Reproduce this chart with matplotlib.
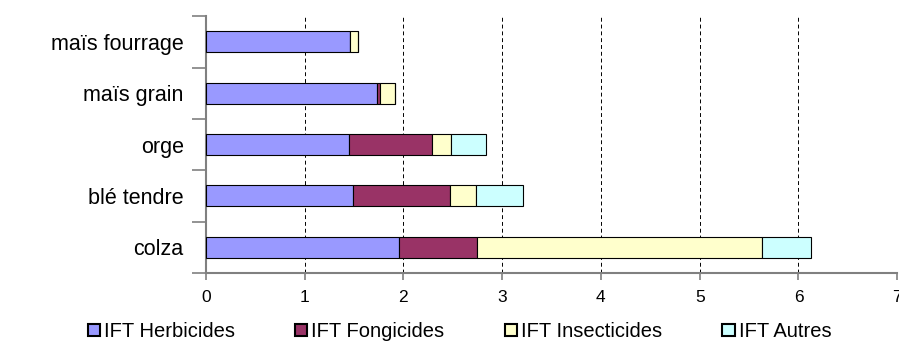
import numpy as np
import matplotlib
matplotlib.use('Agg')
import matplotlib.pyplot as plt

plt.rcParams['font.family'] = ['Liberation Sans', 'DejaVu Sans']

# donnees
cultures = ['colza', 'blé tendre', 'orge', 'maïs grain', 'maïs fourrage']
herbicides = [1.96, 1.49, 1.45, 1.73, 1.46]
fongicides = [0.79, 0.98, 0.84, 0.03, 0.0]
insecticides = [2.88, 0.27, 0.19, 0.15, 0.08]
autres = [0.50, 0.47, 0.36, 0.0, 0.0]

series = [('IFT Herbicides', herbicides, '#9999FF'),
          ('IFT Fongicides', fongicides, '#993366'),
          ('IFT Insecticides', insecticides, '#FFFFCC'),
          ('IFT Autres', autres, '#CCFFFF')]

fig = plt.figure(figsize=(8.99, 3.43), dpi=100)
ax = fig.add_axes([0.229, 0.204, 0.769, 0.749])

y = np.arange(len(cultures))
gauche = np.zeros(len(cultures))
for nom, vals, couleur in series:
    vals = np.array(vals)
    ax.barh(y, vals, left=gauche, height=0.41, color=couleur,
            edgecolor='black', linewidth=0.8, label=nom, zorder=3)
    gauche += vals

ax.set_xlim(0, 7)
ax.set_ylim(-0.5, len(cultures) - 0.5)
ax.set_xticks(np.arange(0, 8, 1))
ax.set_xticklabels([str(i) for i in range(8)], fontsize=12.5)
ax.set_yticks(np.arange(-0.5, len(cultures), 1))
ax.set_yticklabels([])
ax.set_yticks(y, minor=True)
ax.set_yticklabels(cultures, minor=True, fontsize=15.5)
ax.tick_params(axis='y', which='minor', length=0, pad=16)
ax.tick_params(axis='y', which='major', length=10, color='#808080', width=1.2)
ax.tick_params(axis='x', length=5, color='#808080', width=1.2, pad=7)

ax.grid(axis='x', linestyle=(0, (4, 3)), color='black', linewidth=0.7, zorder=0)
for s in ['top', 'right']:
    ax.spines[s].set_visible(False)
for s in ['left', 'bottom']:
    ax.spines[s].set_color('#808080')
    ax.spines[s].set_linewidth(1.5)

leg = fig.legend(loc='center', bbox_to_anchor=(0.511, 0.033), ncol=4, frameon=False,
                 fontsize=14.5, handlelength=0.6, handleheight=0.6, handletextpad=0.2,
                 columnspacing=3.0, borderaxespad=0)
for h in leg.legend_handles:
    h.set_linewidth(1.5)

plt.savefig('out.png', dpi=100)
